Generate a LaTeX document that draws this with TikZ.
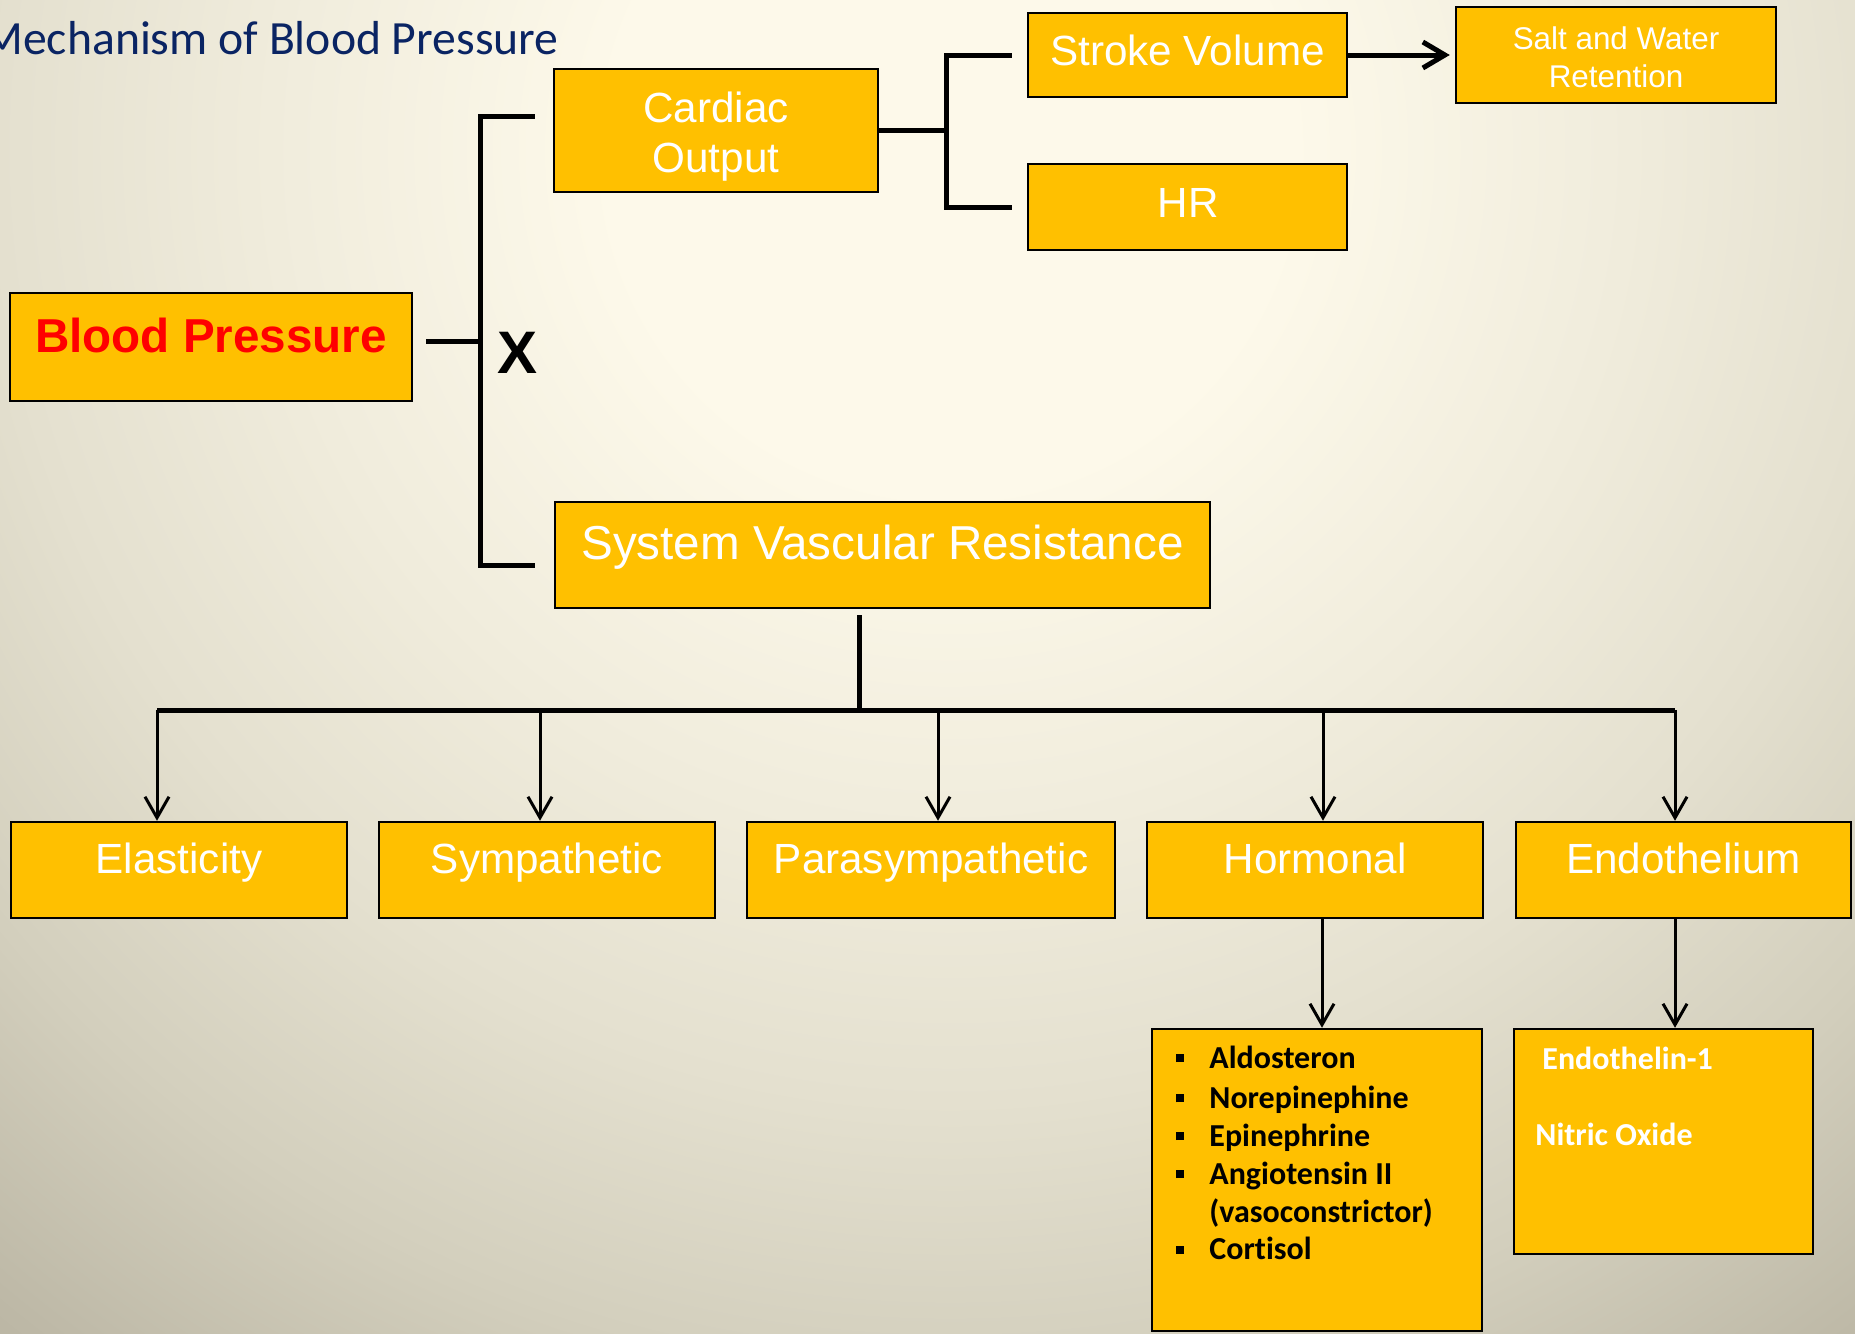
\documentclass[tikz,border=0pt]{standalone}
\usepackage{fontspec}
\setmainfont{Liberation Sans}
\newfontfamily\calib[Ligatures=NoCommon]{Carlito}
\usetikzlibrary{arrows.meta,calc}
\definecolor{gold}{HTML}{FFC000}
\definecolor{navy}{HTML}{0A2463}
\definecolor{bgA}{HTML}{FDF9EA}
\definecolor{bgB}{HTML}{F0ECDC}
\definecolor{bgC}{HTML}{E4E0CF}
\definecolor{bgD}{HTML}{D3CFBD}
\definecolor{bgE}{HTML}{BDB8A6}
\definecolor{bgF}{HTML}{B0AB99}
\pgfdeclareradialshading{bgshade}{\pgfpoint{0bp}{0bp}}{color(0bp)=(bgA); color(5bp)=(bgA); color(10bp)=(bgB); color(14bp)=(bgC); color(18bp)=(bgD); color(22bp)=(bgE); color(25bp)=(bgF); color(50bp)=(bgF)}
\newcommand\bul{\makebox[16.5pt][l]{\rule[3pt]{4pt}{4pt}}}
\begin{document}
\begin{tikzpicture}[x=0.5pt,y=-0.5pt,
  box/.style={draw=black, line width=1.25pt, fill=gold, inner sep=0pt},
  txt/.style={inner sep=0pt, anchor=base, text=white},
  mainfont/.style={font=\fontsize{21.1pt}{25pt}\selectfont},
  bracket/.style={line width=2.5pt},
  bus/.style={line width=2.5pt},
  drop/.style={line width=1.5pt, -{Straight Barb[length=10.5pt,width=12pt]}},
  bigarr/.style={line width=2.5pt, -{Straight Barb[length=11pt,width=13pt]}}
]
\useasboundingbox (0,0) rectangle (1855,1333);
\begin{scope}
  \clip (0,0) rectangle (1855,1333);
  % radial background: the middle half of the shading box maps onto this square
  \shade[shading=bgshade] (-750,-1550) rectangle (2650,1850);
\end{scope}

% title
\node[anchor=base east, inner sep=0pt, text=navy, font=\calib\fontsize{23.85pt}{28pt}\selectfont] (title) at (559,54) {Mechanism of Blood Pressure};

% boxes
\node[box, minimum width=201pt, minimum height=54pt] (bp) at (211,347) {};
\node[box, minimum width=162pt, minimum height=61.5pt] (co) at (716,130.5) {};
\node[box, minimum width=159.5pt, minimum height=42pt] (sv) at (1187.5,55) {};
\node[box, minimum width=159.5pt, minimum height=43pt] (hr) at (1187.5,207) {};
\node[box, minimum width=160pt, minimum height=48pt] (swr) at (1616,55) {};
\node[box, minimum width=327.5pt, minimum height=53pt] (svr) at (882.5,555) {};
\node[box, minimum width=168pt, minimum height=48pt] (el) at (179,870) {};
\node[box, minimum width=168pt, minimum height=48pt] (sy) at (547,870) {};
\node[box, minimum width=184pt, minimum height=48pt] (pa) at (931,870) {};
\node[box, minimum width=168pt, minimum height=48pt] (ho) at (1315,870) {};
\node[box, minimum width=167.5pt, minimum height=48pt] (en) at (1683.5,870) {};
\node[box, minimum width=165pt, minimum height=151pt] (hl) at (1317,1180) {};
\node[box, minimum width=149.5pt, minimum height=112.5pt] (nl) at (1663.5,1141.5) {};

% texts
\node[txt, text=red, font=\bfseries\fontsize{23.8pt}{28pt}\selectfont] (bpt) at (211,352) {Blood Pressure};
\node[txt, mainfont] (cot) at (716,122.7) {\parbox[t]{160pt}{\centering Cardiac\\Output}};
\node[txt, mainfont] (svt) at (1187.5,65) {Stroke Volume};
\node[txt, mainfont] (hrt) at (1188,217) {HR};
\node[txt, font=\fontsize{15.7pt}{19pt}\selectfont] (swrt) at (1616,49) {\parbox[t]{158pt}{\centering Salt and Water\\Retention}};
\node[txt, font=\fontsize{23.8pt}{28pt}\selectfont] (svrt) at (882.5,559) {System Vascular Resistance};
\node[txt, mainfont] (elt) at (179,873) {Elasticity};
\node[txt, mainfont] (syt) at (547,873) {Sympathetic};
\node[txt, mainfont] (pat) at (931,873) {Parasympathetic};
\node[txt, mainfont] (hot) at (1315,873) {Hormonal};
\node[txt, mainfont] (ent) at (1683.5,873) {Endothelium};
\node[inner sep=0pt, anchor=base west, font=\calib\bfseries\fontsize{16pt}{18.95pt}\selectfont] (hlt) at (1176,1068)
  {\parbox[t]{160pt}{\raggedright\bul Aldosteron\\[1.2pt]\bul Norepinephine\\\bul Epinephrine\\\bul Angiotensin II\\\hspace*{16.5pt}(vasoconstrictor)\\\bul Cortisol}};
\node[inner sep=0pt, anchor=base west, text=white, font=\calib\bfseries\fontsize{16pt}{19pt}\selectfont] (nlt) at (1535,1069)
  {\parbox[t]{140pt}{\raggedright\hspace*{3.5pt}Endothelin-1\\[19pt]Nitric Oxide}};
\node[inner sep=0pt, font=\bfseries\fontsize{30pt}{36pt}\selectfont] (xt) at (517.5,352.5) {X};

% bracket from blood pressure
\coordinate (bj) at (480,341);
\coordinate (bt) at (480,116);
\coordinate (bb) at (480,565);
\draw[bracket, shorten <=6.5pt] (bp.east |- bj) -- (bj);
\draw[bracket] ([xshift=-9pt]co.west |- bt) -- (bt) -- (bb) -- ([xshift=-9.5pt]svr.west |- bb);

% cardiac output to SV / HR
\coordinate (cj) at (946,131);
\draw[bracket] (co.east) -- (co.east -| cj);
\draw[bracket] ([xshift=-7.5pt]sv.west) -- (sv.west -| cj) -- (hr.west -| cj) -- ([xshift=-7.5pt]hr.west);
\draw[bigarr, shorten >=2.5pt] (sv.east) -- (swr.west);

% SVR distribution
\coordinate (hub) at (859,710);
\coordinate (d1) at (157,710);
\coordinate (d2) at (540,710);
\coordinate (d3) at (938,710);
\coordinate (d4) at (1323,710);
\coordinate (d5) at (1675,710);
\draw[bus, shorten <=3pt] (svr.south -| hub) -- (hub);
\draw[bus] (d1) -- (d5);
\draw[drop] (d1) -- (d1 |- el.north);
\draw[drop] (d2) -- (d2 |- sy.north);
\draw[drop] (d3) -- (d3 |- pa.north);
\draw[drop] (d4) -- (d4 |- ho.north);
\draw[drop] (d5) -- (d5 |- en.north);

% lower arrows
\coordinate (hx) at (1322,918);
\coordinate (ex) at (1675,918);
\draw[drop] (ho.south -| hx) -- (hl.north -| hx);
\draw[drop] (en.south -| ex) -- (nl.north -| ex);
\end{tikzpicture}
\end{document}
